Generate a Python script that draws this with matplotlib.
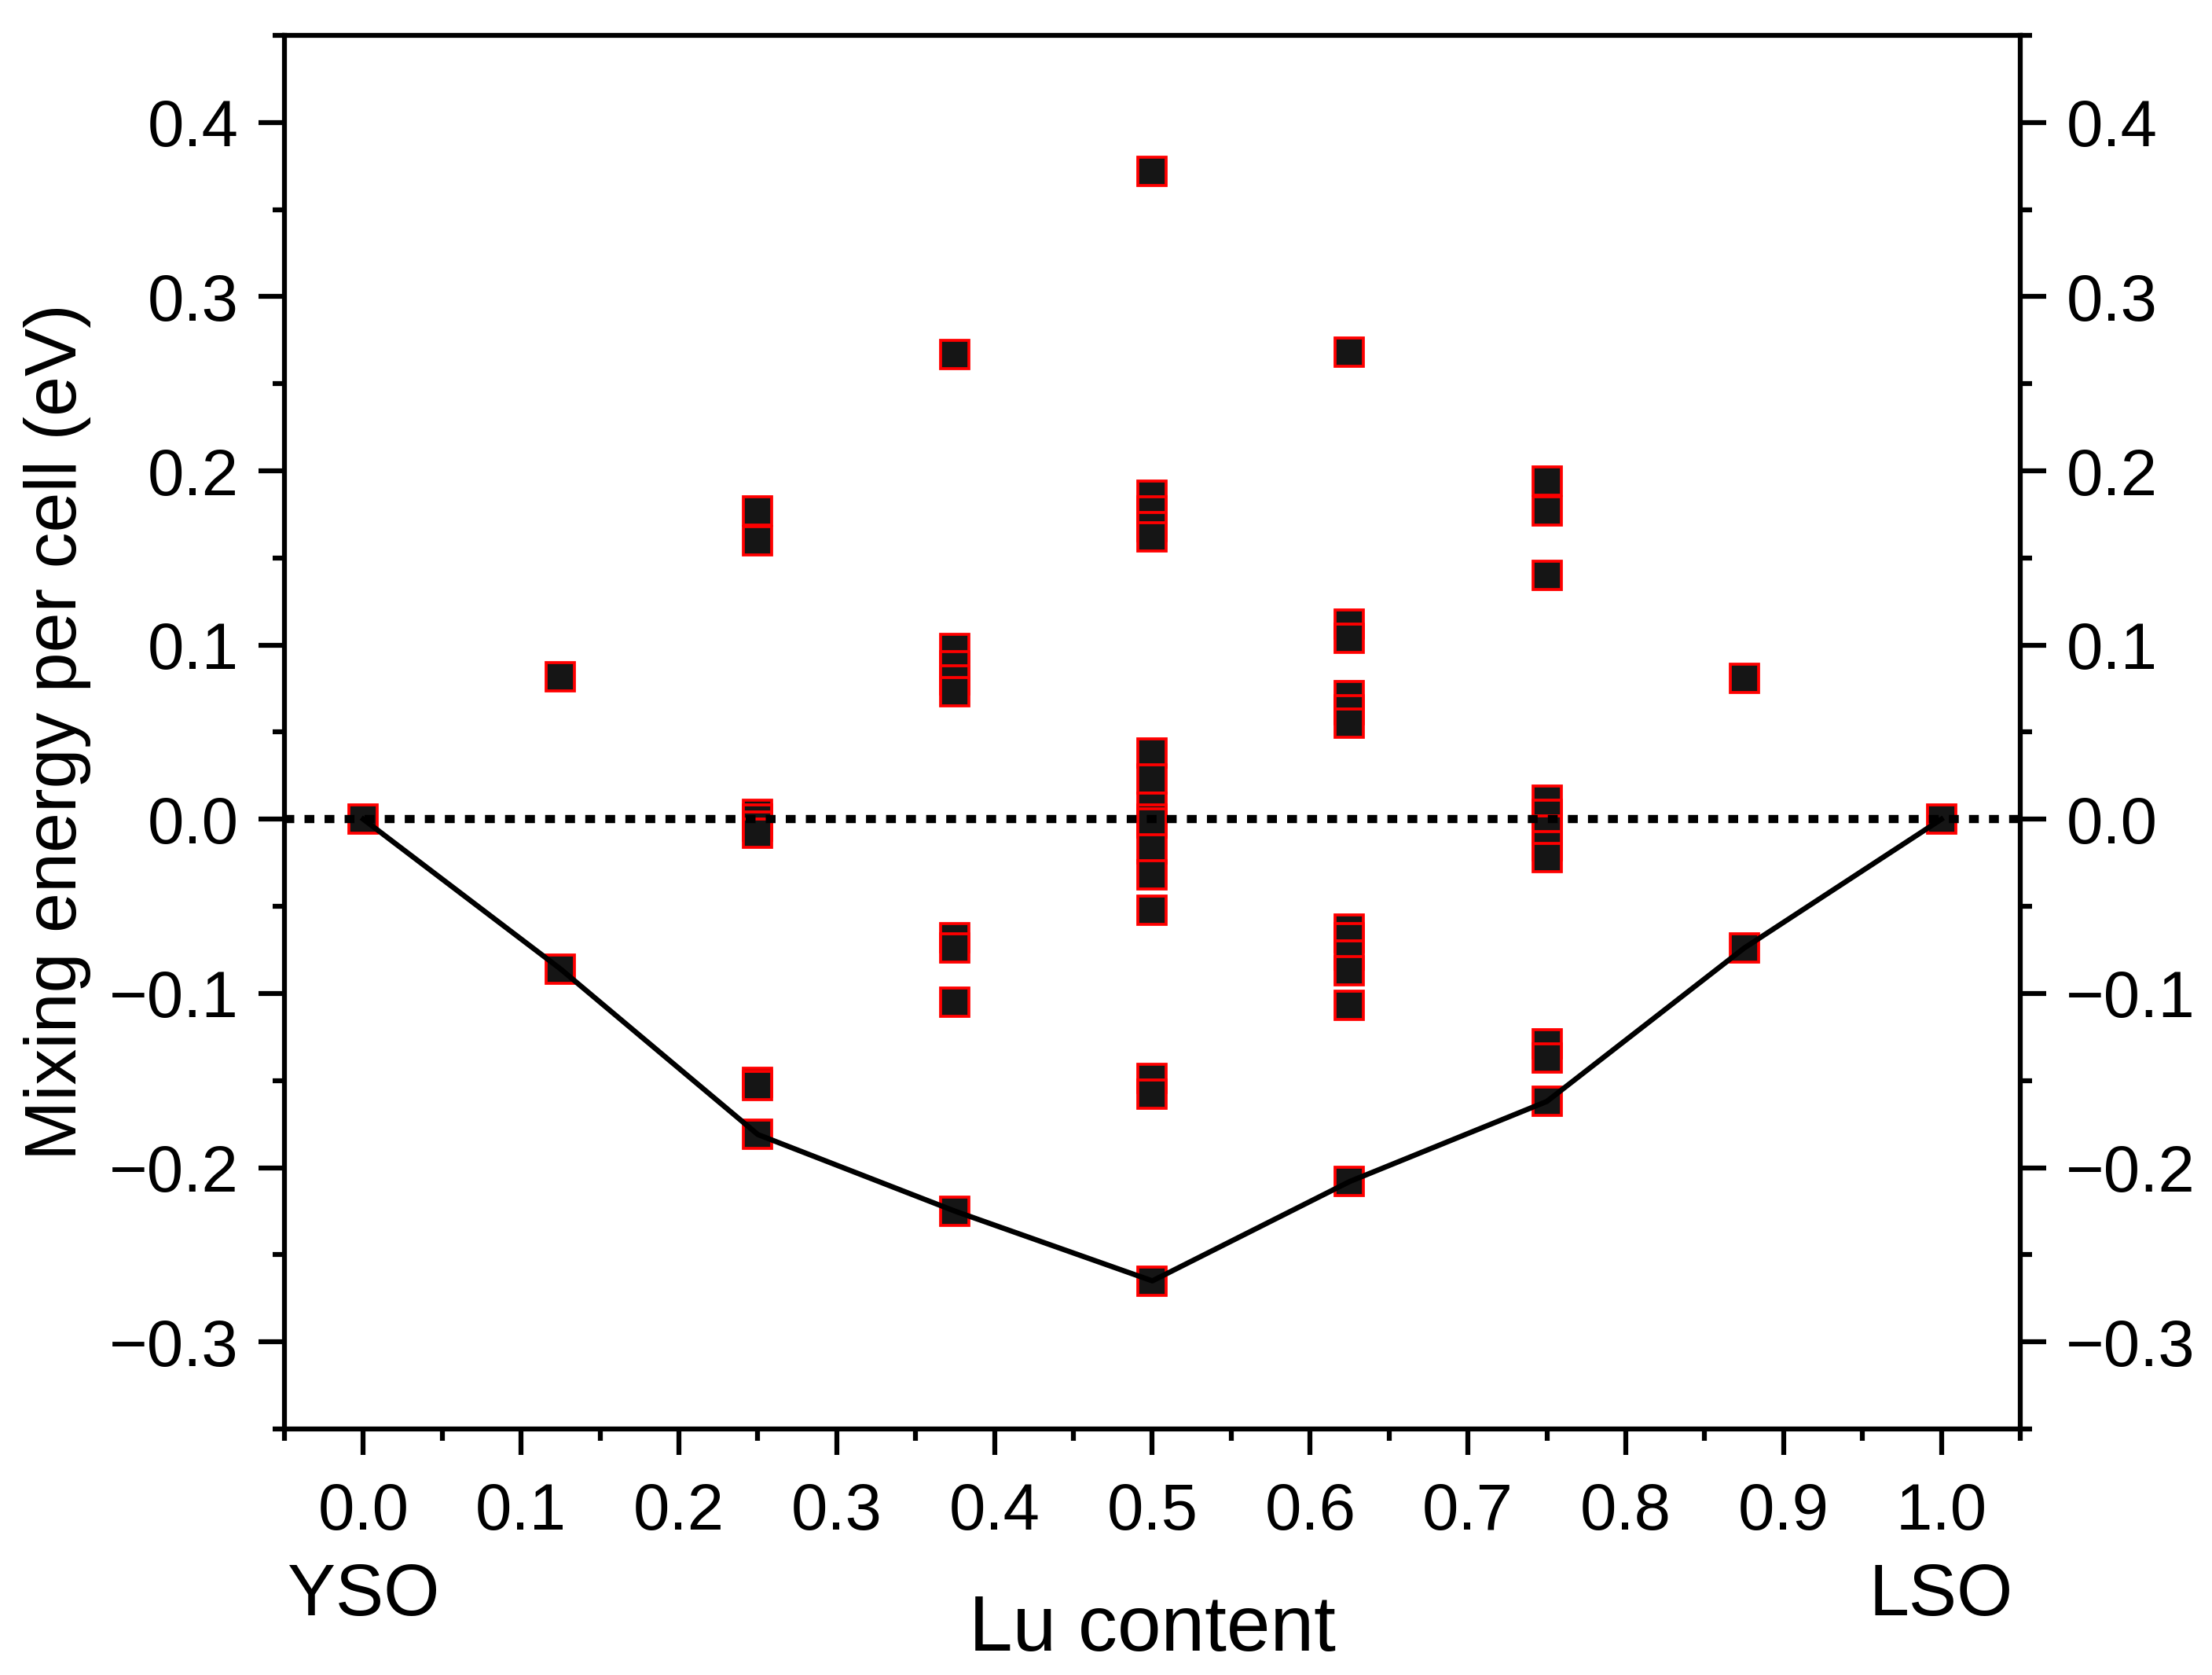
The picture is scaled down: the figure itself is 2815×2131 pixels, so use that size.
import numpy as np
from matplotlib import pyplot as plt
from matplotlib.ticker import MultipleLocator, FuncFormatter

plt.rcParams['font.family'] = ['Liberation Sans', 'DejaVu Sans']

# mixing energies (eV per cell) for each Lu content
e_000 = [0.0]
e_125 = [0.082, -0.086]
e_250 = [0.177, 0.160, 0.003, 0.0, -0.004, -0.008, -0.151, -0.153, -0.181]
e_375 = [0.267, 0.098, 0.088, 0.080, 0.073, -0.068, -0.074, -0.105, -0.225]
e_500 = [0.372, 0.186, 0.177, 0.168, 0.162, 0.038, 0.023, 0.007, 0.0, -0.002,
         -0.017, -0.032, -0.052, -0.149, -0.158, -0.265]
e_625 = [0.268, 0.112, 0.104, 0.071, 0.063, 0.055, -0.063, -0.068, -0.078,
         -0.087, -0.107, -0.208]
e_750 = [0.194, 0.177, 0.140, 0.011, 0.003, -0.006, -0.015, -0.022, -0.129,
         -0.137, -0.162]
e_875 = [0.081, -0.074]
e_1000 = [0.0]

lu_content = [0.0, 0.125, 0.25, 0.375, 0.5, 0.625, 0.75, 0.875, 1.0]
energies = [e_000, e_125, e_250, e_375, e_500, e_625, e_750, e_875, e_1000]

# lower convex hull
hull_x = [0.0, 0.125, 0.25, 0.375, 0.5, 0.625, 0.75, 0.875, 1.0]
hull_e = [0.0, -0.086, -0.181, -0.225, -0.265, -0.208, -0.162, -0.074, 0.0]

fig = plt.figure(figsize=(2815 / 300, 2131 / 300), dpi=300)
ax = fig.add_axes([0.1286, 0.1469, 0.7847, 0.8320])

xs = np.concatenate([[x] * len(e) for x, e in zip(lu_content, energies)])
ys = np.concatenate(energies)
ax.plot(xs, ys, linestyle='none', marker='s', markersize=8.5,
        markerfacecolor='#151515', markeredgecolor='#ff0000',
        markeredgewidth=0.9, zorder=2)

ax.plot(hull_x, hull_e, color='black', linewidth=1.6, zorder=3)
ax.axhline(0.0, color='black', linewidth=2.5, linestyle=(0, (1.2, 1.25)), zorder=3)

ax.set_xlim(-0.05, 1.05)
ax.set_ylim(-0.35, 0.45)

ax.xaxis.set_major_locator(MultipleLocator(0.1))
ax.xaxis.set_minor_locator(MultipleLocator(0.05))
ax.yaxis.set_major_locator(MultipleLocator(0.1))
ax.yaxis.set_minor_locator(MultipleLocator(0.05))


def fmt(v, pos):
    s = '%.1f' % v
    if s == '-0.0':
        s = '0.0'
    return s.replace('-', '\u2212')


ax.xaxis.set_major_formatter(FuncFormatter(fmt))
ax.yaxis.set_major_formatter(FuncFormatter(fmt))

ax.tick_params(which='both', direction='out', width=1.5, labelsize=20,
               left=True, right=True, bottom=True, top=False,
               labelleft=True, labelright=True)
ax.tick_params(which='major', length=8, pad=6)
ax.tick_params(which='minor', length=3.6)
ax.tick_params(axis='x', which='major', pad=8)
for s in ax.spines.values():
    s.set_linewidth(1.5)

ax.yaxis.set_ticks(np.arange(-0.3, 0.41, 0.1))
ax.set_ylim(-0.35, 0.45)

ax.set_xlabel('Lu content', fontsize=24)
ax.xaxis.label.set_va('baseline')
ax.xaxis.set_label_coords(0.5, -0.159)

ax.set_ylabel('Mixing energy per cell (eV)', fontsize=22)
ax.yaxis.label.set_va('center')
ax.yaxis.set_label_coords(-0.131, 0.5)

ax.text(0.0, -0.1337, 'YSO', fontsize=22, ha='center', va='baseline',
        transform=ax.get_xaxis_transform())
ax.text(1.0, -0.1337, 'LSO', fontsize=22, ha='center', va='baseline',
        transform=ax.get_xaxis_transform())

fig.savefig('out.png', dpi=300)
